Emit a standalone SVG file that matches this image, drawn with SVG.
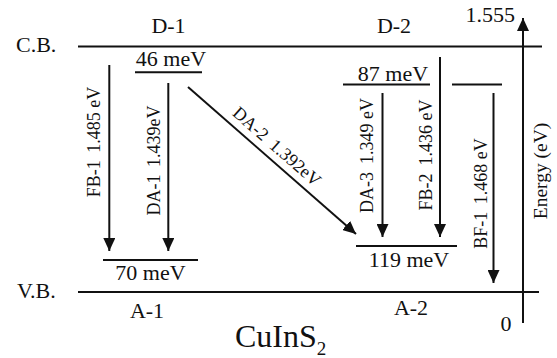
<svg xmlns="http://www.w3.org/2000/svg" width="557" height="358" viewBox="0 0 557 358">
<style>
text{font-family:"Liberation Serif","Times New Roman",serif;fill:#111}
.h{font-size:22px}
.m{text-anchor:middle}
.r{font-size:18px;text-anchor:middle}
.lv{stroke:#111;stroke-width:2;fill:none}
.ar{stroke:#111;stroke-width:2;fill:none;marker-end:url(#ah)}
</style>
<defs>
<marker id="ah" markerUnits="userSpaceOnUse" markerWidth="14" markerHeight="12" refX="13" refY="6" orient="auto" viewBox="0 0 14 12">
<path d="M0,0 L13,6 L0,12 Z" fill="#111"/>
</marker>
</defs>
<rect width="557" height="358" fill="#fff"/>
<g id="cb">
<line class="lv" x1="78" y1="46.5" x2="542" y2="46.5"/>
<text class="h" x="16" y="52">C.B.</text>
</g>
<g id="vb">
<line class="lv" x1="78" y1="292" x2="539" y2="292"/>
<text class="h" x="17" y="298">V.B.</text>
</g>
<g id="d1">
<text class="h m" x="168.5" y="33">D-1</text>
<line class="lv" x1="135" y1="72.3" x2="202" y2="72.3"/>
<text class="h m" x="171" y="66">46 meV</text>
</g>
<g id="d2">
<text class="h m" x="394" y="33">D-2</text>
<line class="lv" x1="343" y1="84.5" x2="430" y2="84.5"/>
<text class="h m" x="393" y="81">87 meV</text>
</g>
<g id="bf-level">
<line class="lv" x1="452" y1="84.5" x2="502" y2="84.5"/>
</g>
<g id="a1">
<line class="lv" x1="103" y1="260" x2="198" y2="260"/>
<text class="h m" x="150.5" y="280">70 meV</text>
<text class="h m" x="147" y="318">A-1</text>
</g>
<g id="a2">
<line class="lv" x1="356" y1="246" x2="457" y2="246"/>
<text class="h m" x="409" y="267">119 meV</text>
<text class="h m" x="411" y="315">A-2</text>
</g>
<g id="axis">
<line class="ar" x1="523" y1="323" x2="523" y2="18"/>
<text class="h" x="515" y="22" text-anchor="end">1.555</text>
<text class="h m" x="506" y="331">0</text>
<text class="m" font-size="19.5" transform="translate(547,171) rotate(-90)">Energy (eV)</text>
</g>
<g id="connectors">
<line class="ar" x1="109.3" y1="65" x2="109.3" y2="251"/>
<line class="ar" x1="168.3" y1="83" x2="168.3" y2="251"/>
<line class="ar" x1="188" y1="87" x2="356" y2="234"/>
<line class="ar" x1="382.5" y1="93" x2="382.5" y2="237"/>
<line class="ar" x1="440" y1="57" x2="440" y2="237"/>
<line class="ar" x1="493.5" y1="93" x2="493.5" y2="283"/>
<text class="r" transform="translate(100,142) rotate(-90)">FB-1<tspan dx="8">1.485 eV</tspan></text>
<text class="r" transform="translate(160,160.5) rotate(-90)">DA-1<tspan dx="8">1.439eV</tspan></text>
<text class="r" transform="translate(273,151) rotate(41.2)">DA-2<tspan dx="8">1.392eV</tspan></text>
<text class="r" transform="translate(373,155.5) rotate(-90)">DA-3<tspan dx="8">1.349 eV</tspan></text>
<text class="r" transform="translate(432,155) rotate(-90)">FB-2<tspan dx="8">1.436 eV</tspan></text>
<text class="r" transform="translate(487,193.5) rotate(-90)">BF-1<tspan dx="8">1.468 eV</tspan></text>
</g>
<g id="title">
<text font-size="32" x="235" y="347">CuInS<tspan font-size="19" dy="8">2</tspan></text>
</g>
</svg>
